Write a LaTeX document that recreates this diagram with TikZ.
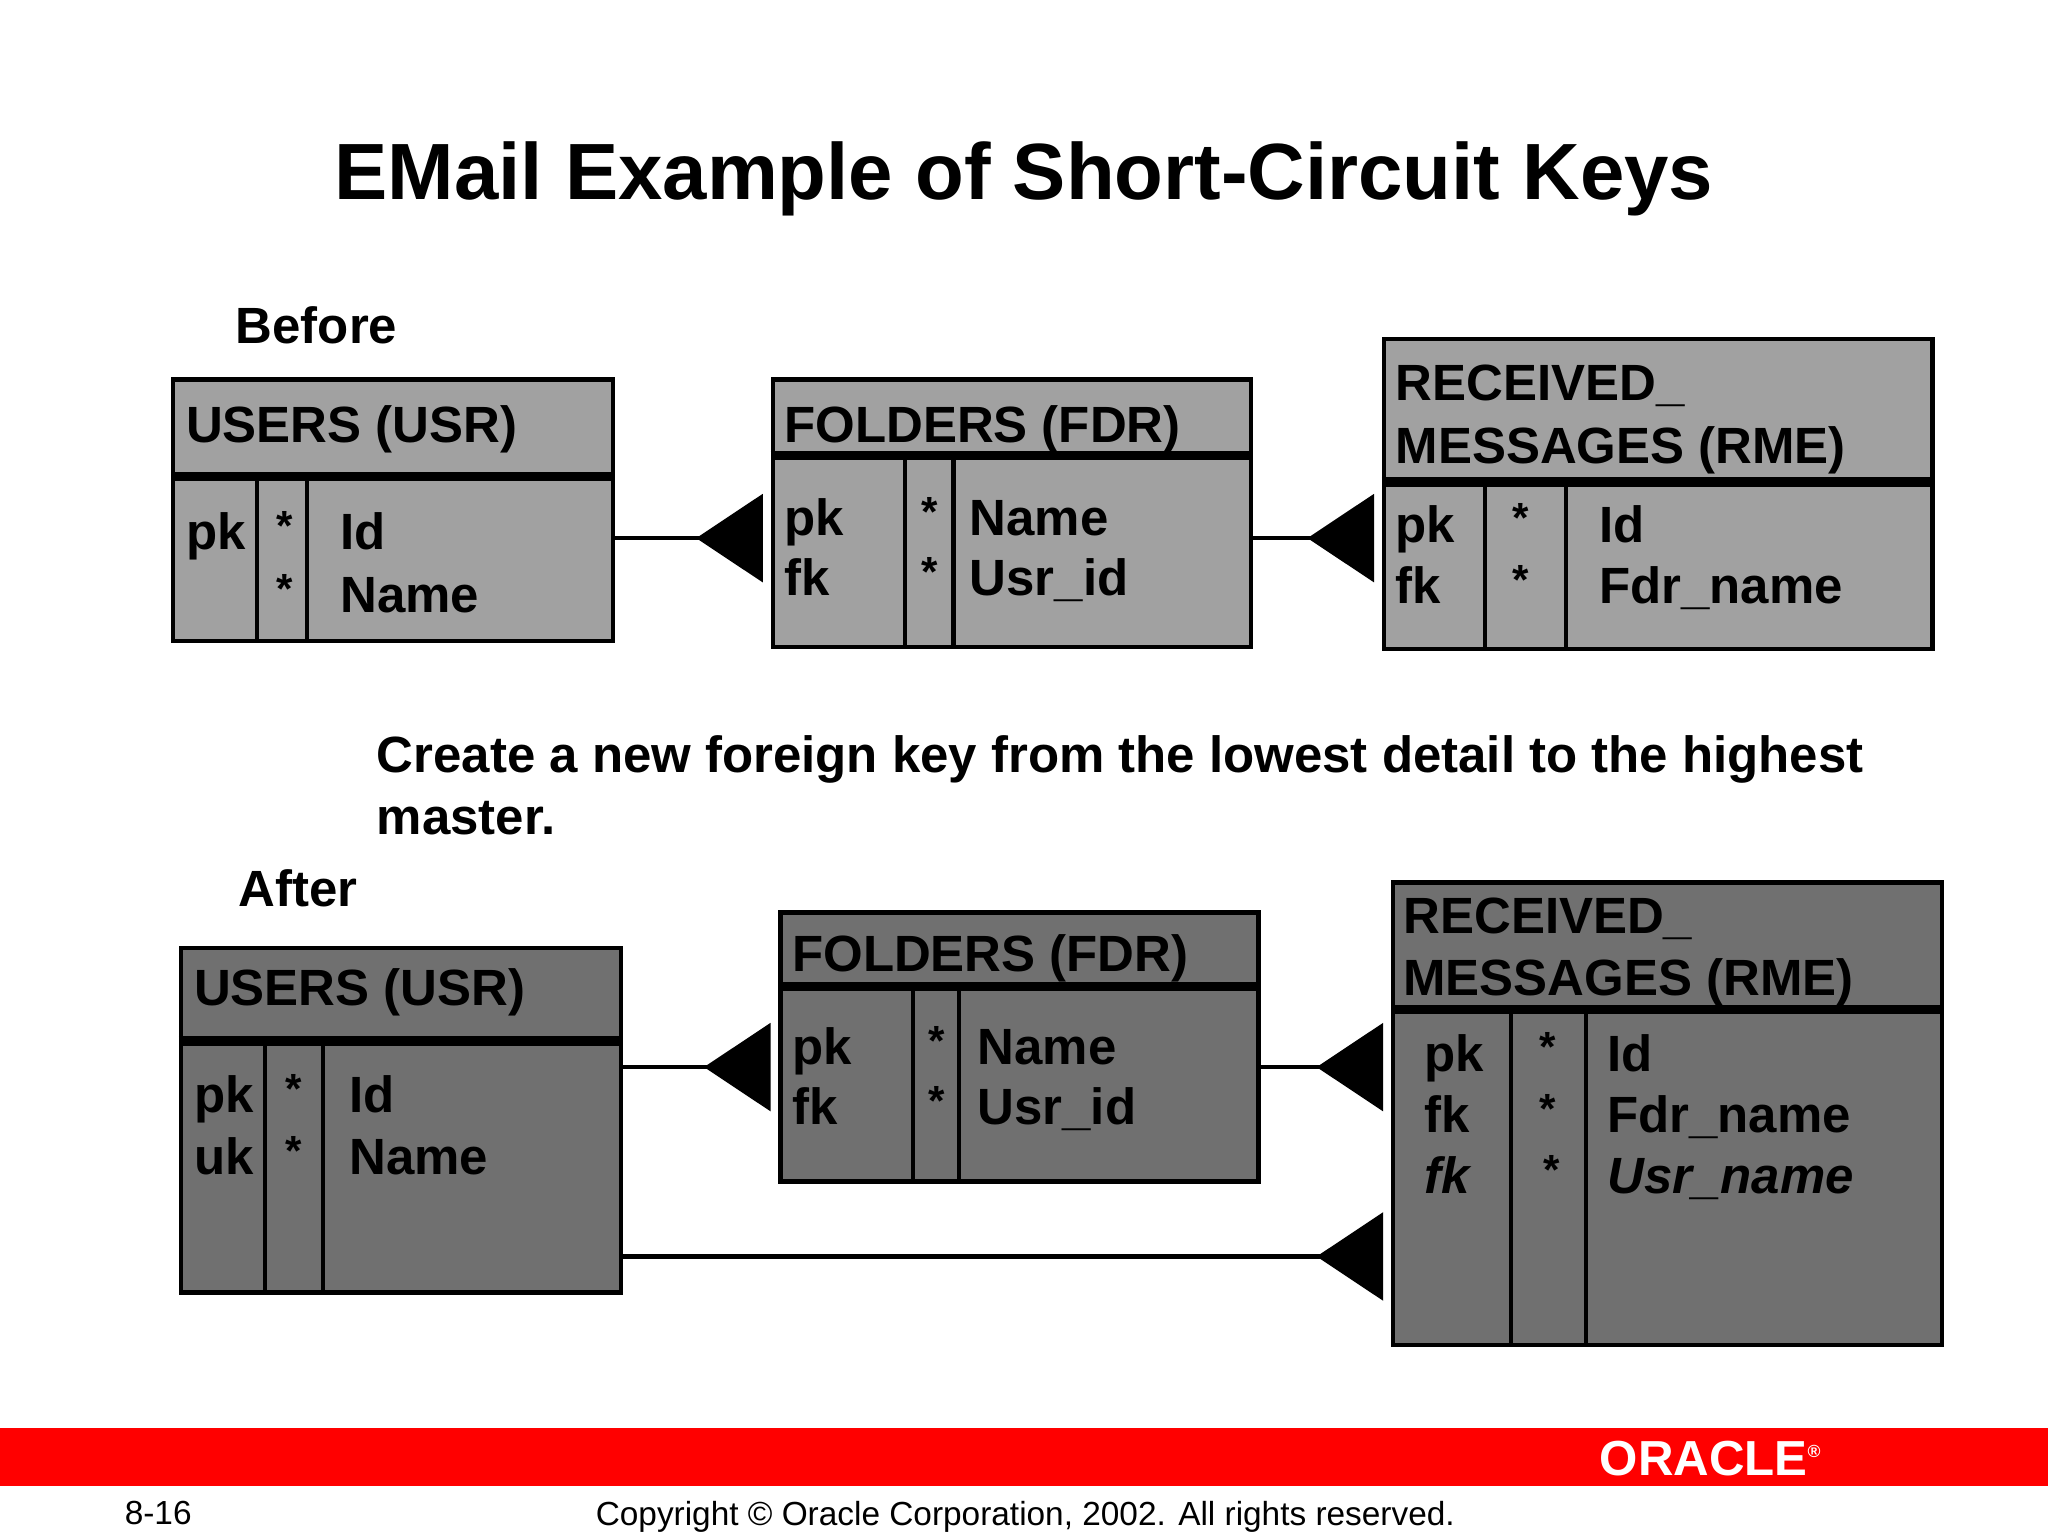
\documentclass[tikz,border=0pt]{standalone}
\usepackage{fontspec}
\setmainfont{Liberation Sans}
\usetikzlibrary{arrows.meta}
\def\U{0.013061cm}
\begin{document}
\begin{tikzpicture}[x=0.013061cm,y=-0.013061cm,
 tbl/.style={draw=black,line width=1.2pt,anchor=north west,inner sep=0pt},
 before/.style={tbl,fill=black!37},
 after/.style={tbl,fill=black!56},
 div/.style={line width=2.6pt},
 col/.style={line width=1.2pt},
 hd/.style={anchor=base west,font=\bfseries\fontsize{14.5}{17}\selectfont,inner sep=0pt},
 bd/.style={anchor=base west,font=\bfseries\fontsize{14.5}{17}\selectfont,inner sep=0pt},
 st/.style={anchor=base,font=\bfseries\fontsize{12}{14}\selectfont,inner sep=0pt},
 lab/.style={anchor=base west,font=\bfseries\fontsize{14.5}{17.5}\selectfont,inner sep=0pt},
 conn/.style={line width=1.3pt,-{Triangle[reversed,length=51*\U,width=67*\U]}}]
\useasboundingbox (0,0) rectangle (1568,1176);
\fill[white] (0,0) rectangle (1568,1176);
\node[anchor=base,font=\bfseries\fontsize{22.7}{27}\selectfont] (title) at (784,153) {EMail Example of Short-Circuit Keys};
\node[lab] (before) at (180,263) {Before};
\node[lab] (after) at (182,694) {After};
\node[lab,align=left,anchor=north west] (note) at (288,563) {Create a new foreign key from the lowest detail to the highest\\master.};
% BEFORE
\node[before,minimum width=337*\U,minimum height=200*\U] (u1) at (131,289) {};
\draw[div] (131,365)--(468,365); \draw[col] (197,365)--(197,489); \draw[col] (235,365)--(235,489);
\node[hd] (u1h) at (142,339) {USERS (USR)};
\node[bd] (u1a) at (142,421) {pk};
\node[st] (u1s1) at (218,414) {*}; \node[st] (u1s2) at (218,462) {*};
\node[bd] (u1b) at (260,421) {Id}; \node[bd] (u1c) at (260,469) {Name};
\node[before,minimum width=366*\U,minimum height=205*\U] (f1) at (590,289) {};
\draw[div] (590,349)--(956,349); \draw[col] (693,349)--(693,494); \draw[col] (730,349)--(730,494);
\node[hd] (f1h) at (600,339) {FOLDERS (FDR)};
\node[bd] (f1a) at (600,410) {pk}; \node[bd] (f1b) at (600,456) {fk};
\node[st] (f1s1) at (712,403) {*}; \node[st] (f1s2) at (712,449) {*};
\node[bd] (f1c) at (742,410) {Name}; \node[bd] (f1d) at (742,456) {Usr\_id};
\node[before,minimum width=420*\U,minimum height=237*\U] (r1) at (1058,258) {};
\draw[div] (1058,369)--(1478,369); \draw[col] (1137,369)--(1137,495); \draw[col] (1199,369)--(1199,495);
\node[hd] (r1h) at (1068,307) {RECEIVED\_}; \node[hd] (r1h2) at (1068,355) {MESSAGES (RME)};
\node[bd] (r1a) at (1068,415) {pk}; \node[bd] (r1b) at (1068,462) {fk};
\node[st] (r1s1) at (1164,408) {*}; \node[st] (r1s2) at (1164,455) {*};
\node[bd] (r1c) at (1224,415) {Id}; \node[bd] (r1d) at (1224,462) {Fdr\_name};
\coordinate (y1) at (0,412);
\draw[conn] (u1.east|-y1) -- ([xshift=-6*\U]f1.west|-y1);
\draw[conn] (f1.east|-y1) -- ([xshift=-6*\U]r1.west|-y1);
% AFTER
\node[after,minimum width=337*\U,minimum height=264*\U] (u2) at (137,724) {};
\draw[div] (137,797)--(474,797); \draw[col] (203,797)--(203,988); \draw[col] (247,797)--(247,988);
\node[hd] (u2h) at (148,770) {USERS (USR)};
\node[bd] (u2a) at (148,852) {pk}; \node[bd] (u2b) at (148,899) {uk};
\node[st] (u2s1) at (225,845) {*}; \node[st] (u2s2) at (225,892) {*};
\node[bd] (u2c) at (267,852) {Id}; \node[bd] (u2d) at (267,899) {Name};
\node[after,minimum width=366*\U,minimum height=206*\U] (f2) at (596,697) {};
\draw[div] (596,755)--(962,755); \draw[col] (699,755)--(699,903); \draw[col] (734,755)--(734,903);
\node[hd] (f2h) at (606,744) {FOLDERS (FDR)};
\node[bd] (f2a) at (606,815) {pk}; \node[bd] (f2b) at (606,861) {fk};
\node[st] (f2s1) at (717,808) {*}; \node[st] (f2s2) at (717,854) {*};
\node[bd] (f2c) at (748,815) {Name}; \node[bd] (f2d) at (748,861) {Usr\_id};
\node[after,minimum width=420*\U,minimum height=354*\U] (r2) at (1065,674) {};
\draw[div] (1065,773)--(1485,773); \draw[col] (1157,773)--(1157,1028); \draw[col] (1214,773)--(1214,1028);
\node[hd] (r2h) at (1074,715) {RECEIVED\_}; \node[hd] (r2h2) at (1074,762) {MESSAGES (RME)};
\node[bd] (r2a) at (1090,820) {pk}; \node[bd] (r2b) at (1090,867) {fk};
\node[bd,font=\bfseries\itshape\fontsize{14.5}{17}\selectfont] (r2c) at (1090,914) {fk};
\node[st] (r2s1) at (1185,813) {*}; \node[st] (r2s2) at (1185,860) {*}; \node[st] (r2s3) at (1188,907) {*};
\node[bd] (r2d) at (1230,820) {Id}; \node[bd] (r2e) at (1230,867) {Fdr\_name};
\node[bd,font=\bfseries\itshape\fontsize{14.5}{17}\selectfont] (r2f) at (1230,914) {Usr\_name};
\coordinate (y2) at (0,817); \coordinate (y3) at (0,962);
\draw[conn] (u2.east|-y2) -- ([xshift=-6*\U]f2.west|-y2);
\draw[conn] (f2.east|-y2) -- ([xshift=-6*\U]r2.west|-y2);
\draw[conn] (u2.east|-y3) -- ([xshift=-6*\U]r2.west|-y3);
% footer
\fill[red] (0,1093) rectangle (1568,1138);
\node[anchor=center,text=white,font=\bfseries\fontsize{14}{16}\selectfont] (logo) at (1310,1117) {ORACLE\textsuperscript{\tiny ®}};
\node[anchor=base west,font=\fontsize{9.5}{11}\selectfont,inner sep=0pt] (pg) at (95,1167) {8-16};
\node[anchor=base,font=\fontsize{9.5}{11}\selectfont,inner sep=0pt] (copy) at (785,1168) {Copyright © Oracle Corporation, 2002. All rights reserved.};
\end{tikzpicture}
\end{document}
